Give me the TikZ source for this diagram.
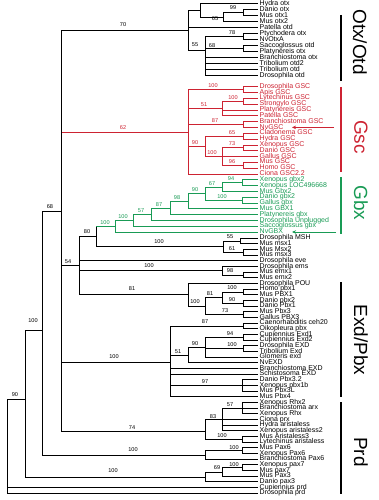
\documentclass[tikz,border=0pt]{standalone}
\usepackage{fontspec}
\setmainfont{Liberation Sans}
\usetikzlibrary{arrows.meta}
\definecolor{gscred}{RGB}{205,35,50}
\definecolor{gbxgreen}{RGB}{25,155,85}
\newcommand\kids[2]{\foreach \k in {#2}{\draw[br] (#1) |- (\k);}}
\newcommand\bsl[4]{\node[bs] (#1) at (#2,#3) {#4};}
\begin{document}
\begin{tikzpicture}[x=1pt,y=-1pt,
  leaf/.style={anchor=west, inner xsep=1.5pt, inner ysep=0pt, text height=4.6pt, text depth=1.2pt, font=\fontsize{7}{7}\selectfont},
  bs/.style={font=\fontsize{5.6}{5.6}\selectfont, inner sep=0pt},
  br/.style={line width=0.6pt},
  grp/.style={font=\fontsize{19}{19}\selectfont, rotate=-90, inner sep=0pt},
  bar/.style={line width=2.6pt},
  arr/.style={line width=0.8pt, -{Stealth[length=4pt,width=3.5pt]}}]
\useasboundingbox (0,0) rectangle (379,500);
% ---------- leaves ----------
\node[leaf] (l1) at (258,3.5) {Hydra otx};
\node[leaf] (l2) at (258,9.5) {Danio otx};
\node[leaf] (l3) at (258,15.5) {Mus otx1};
\node[leaf] (l4) at (258,21.5) {Mus otx2};
\node[leaf] (l5) at (258,27.5) {Patella otd};
\node[leaf] (l6) at (258,33.5) {Ptychodera otx};
\node[leaf] (l7) at (258,39.5) {NvOtxA};
\node[leaf] (l8) at (258,45.5) {Saccoglossus otd};
\node[leaf] (l9) at (258,51.5) {Platynereis otx};
\node[leaf] (l10) at (258,57.5) {Branchiostoma otx};
\node[leaf] (l11) at (258,63.5) {Tribolium otd2};
\node[leaf] (l12) at (258,69.5) {Tribolium otd};
\node[leaf] (l13) at (258,75.5) {Drosophila otd};
\begin{scope}[gscred]
\node[leaf] (l14) at (258,86.7) {Drosophila GSC};
\node[leaf] (l15) at (258,92.5) {Apis GSC};
\node[leaf] (l16) at (258,98.3) {Lytechinus GSC};
\node[leaf] (l17) at (258,104.1) {Strongylo GSC};
\node[leaf] (l18) at (258,109.9) {Platynereis GSC};
\node[leaf] (l19) at (258,115.7) {Patella GSC};
\node[leaf] (l20) at (258,121.6) {Branchiostoma GSC};
\node[leaf] (l21) at (258,127.4) {NvGSC};
\node[leaf] (l22) at (258,133.2) {Cladonema GSC};
\node[leaf] (l23) at (258,139.0) {Hydra GSC};
\node[leaf] (l24) at (258,144.8) {Xenopus GSC};
\node[leaf] (l25) at (258,150.6) {Danio GSC};
\node[leaf] (l26) at (258,156.4) {Gallus GSC};
\node[leaf] (l27) at (258,162.2) {Mus GSC};
\node[leaf] (l28) at (258,168.0) {Homo GSC};
\node[leaf] (l29) at (258,173.8) {Ciona GSC2.2};
\end{scope}
\begin{scope}[gbxgreen]
\node[leaf] (l30) at (258,179.7) {Xenopus gbx2};
\node[leaf] (l31) at (258,185.5) {Xenopus LOC496668};
\node[leaf] (l32) at (258,191.3) {Mus Gbx2};
\node[leaf] (l33) at (258,197.1) {Danio gbx2};
\node[leaf] (l34) at (258,202.9) {Gallus gbx};
\node[leaf] (l35) at (258,208.7) {Mus GBX1};
\node[leaf] (l36) at (258,214.5) {Platynereis gbx};
\node[leaf] (l37) at (258,220.3) {Drosophila Unplugged};
\node[leaf] (l38) at (258,226.1) {Saccoglossus gbx};
\node[leaf] (l39) at (258,232.0) {NvGBX};
\end{scope}
\node[leaf] (l40) at (258,238.0) {Drosophila MSH};
\node[leaf] (l41) at (258,243.7) {Mus msx1};
\node[leaf] (l42) at (258,249.3) {Mus Msx2};
\node[leaf] (l43) at (258,255.0) {Mus msx3};
\node[leaf] (l44) at (258,260.7) {Drosophila eve};
\node[leaf] (l45) at (258,266.3) {Drosophila ems};
\node[leaf] (l46) at (258,272.0) {Mus emx1};
\node[leaf] (l47) at (258,277.7) {Mus emx2};
\node[leaf] (l48) at (258,283.3) {Drosophila POU};
\node[leaf] (l49) at (258,289.0) {Homo pbx1};
\node[leaf] (l50) at (258,294.7) {Mus PBX1};
\node[leaf] (l51) at (258,300.3) {Danio pbx2};
\node[leaf] (l52) at (258,306.0) {Danio Pbx1};
\node[leaf] (l53) at (258,311.7) {Mus Pbx3};
\node[leaf] (l54) at (258,317.3) {Gallus PBX3};
\node[leaf] (l55) at (258,323.0) {Caenorhabditis ceh20};
\node[leaf] (l56) at (258,328.7) {Oikopleura pbx};
\node[leaf] (l57) at (258,334.3) {Cupiennius Exd1};
\node[leaf] (l58) at (258,340.0) {Cupiennius Exd2};
\node[leaf] (l59) at (258,345.7) {Drosophila EXD};
\node[leaf] (l60) at (258,351.3) {Tribolium Exd};
\node[leaf] (l61) at (258,357.0) {Glomeris exd};
\node[leaf] (l62) at (258,362.7) {NvEXD};
\node[leaf] (l63) at (258,368.3) {Branchiostoma EXD};
\node[leaf] (l64) at (258,374.0) {Schistosoma EXD};
\node[leaf] (l65) at (258,379.7) {Danio Pbx3.2};
\node[leaf] (l66) at (258,385.3) {Xenopus pbx1b};
\node[leaf] (l67) at (258,391.0) {Mus Pbx3L};
\node[leaf] (l68) at (258,396.7) {Mus Pbx4};
\node[leaf] (l69) at (258,402.3) {Xenopus Rhx2};
\node[leaf] (l70) at (258,408.0) {Branchiostoma arx};
\node[leaf] (l71) at (258,413.7) {Xenopus Rhx};
\node[leaf] (l72) at (258,419.3) {Ciona prx};
\node[leaf] (l73) at (258,425.0) {Hydra aristaless};
\node[leaf] (l74) at (258,430.7) {Xenopus aristaless2};
\node[leaf] (l75) at (258,436.3) {Mus Aristaless3};
\node[leaf] (l76) at (258,442.0) {Lytechinus aristaless};
\node[leaf] (l77) at (258,447.7) {Mus Pax6};
\node[leaf] (l78) at (258,453.3) {Xenopus Pax6};
\node[leaf] (l79) at (258,459.0) {Branchiostoma Pax6};
\node[leaf] (l80) at (258,464.7) {Xenopus pax7};
\node[leaf] (l81) at (258,470.3) {Mus pax7};
\node[leaf] (l82) at (258,476.0) {Mus Pax3};
\node[leaf] (l83) at (258,481.7) {Danio pax3};
\node[leaf] (l84) at (258,487.3) {Cupiennius prd};
\node[leaf] (l85) at (258,493.0) {Drosophila prd};
% ---------- internal nodes ----------
\coordinate (R) at (7,446);
\coordinate (A) at (25,399);
\coordinate (B) at (42,330);
\coordinate (C) at (61,211);
\coordinate (O0) at (188,30);
\coordinate (O1) at (200,10);
\coordinate (O2) at (223,17);
\coordinate (O3) at (243,12.5);
\coordinate (O4) at (243,36.5);
\coordinate (O6) at (205,50);
\coordinate (O7) at (243,48.5);
\coordinate (S0) at (188,132);
\coordinate (S1) at (243,89.6);
\coordinate (S2) at (222,108.5);
\coordinate (S2a) at (243,101.2);
\coordinate (S3) at (243,124.5);
\coordinate (S4) at (205,146.3);
\coordinate (S5) at (243,136.1);
\coordinate (S6) at (222,156.4);
\coordinate (S7) at (243,147.7);
\coordinate (S8) at (243,165.1);
\coordinate (G1) at (115,226);
\coordinate (G2) at (133,220);
\coordinate (G3) at (151,214);
\coordinate (G4) at (170,207.8);
\coordinate (G5) at (188,201.1);
\coordinate (G6) at (205,193.5);
\coordinate (G7) at (222,187);
\coordinate (G7a) at (242,182.6);
\coordinate (G8) at (242,200);
\coordinate (D) at (79,265.7);
\coordinate (E) at (96,236.5);
\coordinate (M0) at (223,246.5);
\coordinate (M1) at (240,240.9);
\coordinate (M2) at (243,252.2);
\coordinate (Em) at (222,270.6);
\coordinate (Em2) at (243,274.9);
\coordinate (P1) at (188,294.7);
\coordinate (V1) at (243,291.9);
\coordinate (V2) at (243,303.2);
\coordinate (V3) at (222,297.5);
\coordinate (V4) at (243,314.5);
\coordinate (V5) at (205,306);
\coordinate (X0) at (170,362);
\coordinate (X1) at (243,325.9);
\coordinate (X2) at (188,355);
\coordinate (X3) at (205,347);
\coordinate (X3a) at (243,337.2);
\coordinate (X3c) at (243,348.5);
\coordinate (X5) at (242,385.3);
\coordinate (Q0) at (205,431);
\coordinate (Q1) at (242,408);
\coordinate (Q2) at (222,419.5);
\coordinate (Q4) at (242,439.2);
\coordinate (R0) at (205,454.8);
\coordinate (R1) at (242,450.5);
\coordinate (T0) at (205,476.8);
\coordinate (T1) at (242,467.5);
\coordinate (T2) at (222,471.8);
% ---------- branches ----------
\kids{R}{A,l84.west,l85.west}
\kids{A}{B,T0}
\kids{B}{C,R0}
\draw[br,gscred] (C|-S0) -- (S0);
\kids{C}{O0,D,X0,Q0}
% Otx
\kids{O0}{O1,l5.west,O6}
\kids{O1}{l1.west,O2}
\kids{O2}{O3,l4.west}
\kids{O3}{l2.west,l3.west}
\kids{O6}{O4,O7,l10.west,l11.west,l12.west,l13.west}
\kids{O4}{l6.west,l7.west}
\kids{O7}{l8.west,l9.west}
% Gsc
\begin{scope}[gscred]
\kids{S0}{S1,S2,S3,S4,l29.west}
\kids{S1}{l14.west,l15.west}
\kids{S2}{S2a,l18.west,l19.west}
\kids{S2a}{l16.west,l17.west}
\kids{S3}{l20.west,l21.west}
\kids{S4}{S5,S6}
\kids{S5}{l22.west,l23.west}
\kids{S6}{S7,l26.west,S8}
\kids{S7}{l24.west,l25.west}
\kids{S8}{l27.west,l28.west}
\end{scope}
% D and Gbx
\kids{D}{E,l44.west,Em,P1}
\draw[br] (E) -- (E|-G1);
\kids{E}{M0}
\begin{scope}[gbxgreen]
\draw[br] (E|-G1) -- (G1);
\kids{G1}{G2,l39.west}
\kids{G2}{G3,l38.west}
\kids{G3}{G4,l37.west}
\kids{G4}{G5,l36.west}
\kids{G5}{G6,l35.west}
\kids{G6}{G7,G8}
\kids{G7}{G7a,l32.west}
\kids{G7a}{l30.west,l31.west}
\kids{G8}{l33.west,l34.west}
\end{scope}
\kids{M0}{M1,M2}
\kids{M1}{l40.west,l41.west}
\kids{M2}{l42.west,l43.west}
\kids{Em}{l45.west,Em2}
\kids{Em2}{l46.west,l47.west}
\kids{P1}{l48.west,V5}
\kids{V5}{V3,V4}
\kids{V3}{V1,V2}
\kids{V1}{l49.west,l50.west}
\kids{V2}{l51.west,l52.west}
\kids{V4}{l53.west,l54.west}
% Exd
\kids{X0}{X1,X2,l63.west,l64.west,X5,l68.west}
\kids{X1}{l55.west,l56.west}
\kids{X2}{X3,l62.west}
\kids{X3}{X3a,X3c,l61.west}
\kids{X3a}{l57.west,l58.west}
\kids{X3c}{l59.west,l60.west}
\kids{X5}{l65.west,l66.west,l67.west}
% Prd
\kids{Q0}{Q2,Q4}
\kids{Q2}{Q1,l72.west,l73.west,l74.west}
\kids{Q1}{l69.west,l70.west,l71.west}
\kids{Q4}{l75.west,l76.west}
\kids{R0}{R1,l79.west}
\kids{R1}{l77.west,l78.west}
\kids{T0}{T2,l83.west}
\kids{T2}{T1,l82.west}
\kids{T1}{l80.west,l81.west}
% ---------- support values ----------
\bsl{b1}{15}{395}{90}
\bsl{b2}{33}{321}{100}
\bsl{b3}{50}{207}{68}
\bsl{b4}{123}{25}{70}
\bsl{b6}{68}{262}{54}
\bsl{b7}{114}{357}{100}
\bsl{b8}{132}{428}{74}
\bsl{b9}{133}{450}{100}
\bsl{b10}{113}{471}{100}
\bsl{b11}{87}{232}{80}
\bsl{b12}{159}{242}{100}
\bsl{b13}{149}{266}{100}
\bsl{b14}{132}{289}{81}
\bsl{b15}{233}{8}{99}
\bsl{b16}{215}{19}{65}
\bsl{b17}{232}{33}{78}
\bsl{b18}{195}{45}{55}
\bsl{b19}{212}{46}{68}
\bsl{b20}{230}{237}{55}
\bsl{b21}{232}{249}{61}
\bsl{b22}{230}{271}{98}
\bsl{b23}{232}{288}{100}
\bsl{b24}{210}{294}{81}
\bsl{b25}{232}{300}{90}
\bsl{b26}{195}{302}{100}
\bsl{b27}{225}{311}{73}
\bsl{b28}{205}{322}{87}
\bsl{b29}{230}{334}{94}
\bsl{b30}{178}{352}{51}
\bsl{b31}{195}{344}{90}
\bsl{b32}{232}{345}{100}
\bsl{b33}{205}{382}{97}
\bsl{b34}{230}{405}{57}
\bsl{b35}{213}{417}{83}
\bsl{b36}{222}{436}{100}
\bsl{b37}{234}{448}{100}
\bsl{b38}{217}{468}{69}
\bsl{b39}{234}{465}{100}
\begin{scope}[gscred]
\bsl{b5}{123}{128}{62}
\bsl{r1}{213}{86}{100}
\bsl{r2}{233}{98}{100}
\bsl{r3}{204}{105}{51}
\bsl{r4}{215}{121}{87}
\bsl{r5}{232}{133}{65}
\bsl{r6}{195}{143}{90}
\bsl{r7}{232}{144}{73}
\bsl{r8}{212}{153}{100}
\bsl{r9}{232}{162}{96}
\end{scope}
\begin{scope}[gbxgreen]
\bsl{g1}{105}{223}{100}
\bsl{g2}{123}{217}{100}
\bsl{g3}{141}{211}{57}
\bsl{g4}{159}{205}{87}
\bsl{g5}{177}{198}{98}
\bsl{g6}{195}{190}{90}
\bsl{g7}{212}{184}{67}
\bsl{g8}{231}{179}{94}
\bsl{g9}{222}{197}{100}
\end{scope}
% ---------- arrows ----------
\coordinate (aG1) at (334,127.4);
\coordinate (aG2) at (292,127.4);
\draw[arr,gscred] (aG1) -- (aG2);
\coordinate (aB1) at (336,232);
\coordinate (aB2) at (292,232);
\draw[arr,gbxgreen] (aB1) -- (aB2);
% ---------- group bars ----------
\draw[bar] (341,15) -- (341,81);
\draw[bar,gscred] (341,87) -- (341,172);
\draw[bar,gbxgreen] (341,177) -- (341,234);
\draw[bar] (341,282) -- (341,397);
\draw[bar] (341,402) -- (341,494);
\node[grp] (tOtx) at (360,42) {Otx/Otd};
\node[grp,gscred] (tGsc) at (361,137) {Gsc};
\node[grp,gbxgreen] (tGbx) at (361,203) {Gbx};
\node[grp] (tExd) at (361,340) {Exd/Pbx};
\node[grp] (tPrd) at (361,452) {Prd};
\end{tikzpicture}
\end{document}
